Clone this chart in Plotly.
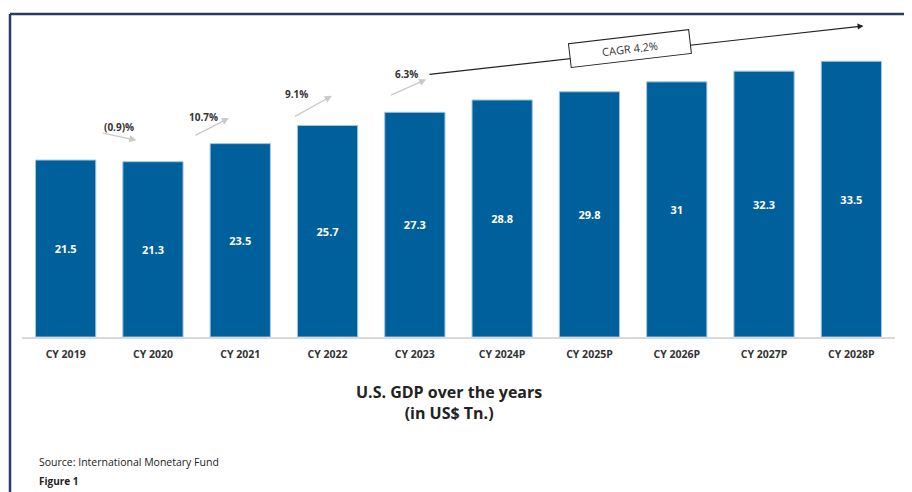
import plotly.graph_objects as go

# ---------------- data ----------------
categories = ["CY 2019", "CY 2020", "CY 2021", "CY 2022", "CY 2023",
              "CY 2024P", "CY 2025P", "CY 2026P", "CY 2027P", "CY 2028P"]
gdp_values = [21.5, 21.3, 23.5, 25.7, 27.3, 28.8, 29.8, 31.0, 32.3, 33.5]
growth_labels = ["(0.9)%", "10.7%", "9.1%", "6.3%"]
cagr_label = "CAGR 4.2%"
title_lines = ["U.S. GDP over the years", "(in US$ Tn.)"]
source_text = "Source: International Monetary Fund"
figure_text = "Figure 1"

# ---------------- layout constants ----------------
PAGE_OFF = 8                 # default body margin of the page
W, H = 912 - PAGE_OFF, 492 - PAGE_OFF
L, R, T, B = 22 - PAGE_OFF, 17, 20 - PAGE_OFF, 155
PX_PER_UNIT = 8.23
Y_MAX = (H - T - B) / PX_PER_UNIT

BAR_COLOR = "#00609c"
FONT = "Open Sans"

def px_x(px):
    """page pixel x -> paper x"""
    return (px - PAGE_OFF - L) / (W - L - R)

def px_y(py):
    """page pixel y -> paper y"""
    return (H - B - (py - PAGE_OFF)) / (H - T - B)

# growth-arrow placement offsets (relative to bar index / bar value)
arrow_tail_dx = [0.41, 0.47, 0.61, 0.71]
arrow_head_dx = [0.81, 0.87, 1.05, 1.13]
arrow_tail_dy = [3.3, 3.1, 3.2, 3.6]
arrow_head_dy = [2.6, 3.1, 3.6, 4.0]
label_dx = [0.61, 0.58, 0.64, 0.91]
label_dy = [4.05, 5.4, 6.0, 6.3]

fig = go.Figure()
fig.add_trace(go.Bar(
    x=categories, y=gdp_values,
    marker=dict(color=BAR_COLOR, line=dict(color="#9fc5e8", width=1)),
    texttemplate="%{y}", textposition="inside", insidetextanchor="middle",
    textangle=0, constraintext="none",
    textfont=dict(family=FONT, size=11, color="white", weight="bold"),
    hoverinfo="skip",
))

annotations = []
for i, lab in enumerate(growth_labels):
    annotations.append(dict(
        x=i + arrow_head_dx[i], y=gdp_values[i + 1] + arrow_head_dy[i],
        ax=i + arrow_tail_dx[i], ay=gdp_values[i] + arrow_tail_dy[i],
        xref="x", yref="y", axref="x", ayref="y",
        text="", showarrow=True, arrowhead=2, arrowsize=1.1,
        arrowwidth=1.3, arrowcolor="#c9c9c9",
    ))
    annotations.append(dict(
        x=i + label_dx[i], y=gdp_values[i] + label_dy[i],
        xref="x", yref="y", text=lab, showarrow=False,
        font=dict(family=FONT, size=10, color="#333333", weight="bold"),
    ))

# CAGR arrow
annotations.append(dict(
    x=9 + 0.14, y=gdp_values[9] + 4.3,
    ax=4 + 0.15, ay=gdp_values[4] + 4.6,
    xref="x", yref="y", axref="x", ayref="y",
    text="", showarrow=True, arrowhead=2, arrowsize=1.0,
    arrowwidth=1.2, arrowcolor="#222222",
))
annotations.append(dict(
    x=6.47, y=35.0, xref="x", yref="y", text=cagr_label, showarrow=False,
    textangle=-6.7, bgcolor="white", bordercolor="#222222", borderwidth=1,
    borderpad=3, width=114, height=17,
    font=dict(family=FONT, size=11, color="#333333"),
))

# title, source, figure
annotations.append(dict(
    x=px_x(449), y=px_y(402), xref="paper", yref="paper",
    text="<b>" + title_lines[0] + "</b><br><b>" + title_lines[1] + "</b>",
    showarrow=False, xanchor="center", yanchor="middle",
    font=dict(family=FONT, size=16, color="#222222"),
))
annotations.append(dict(
    x=px_x(37), y=px_y(462), xref="paper", yref="paper", text=source_text,
    showarrow=False, xanchor="left", yanchor="middle",
    font=dict(family=FONT, size=10.5, color="#222222"),
))
annotations.append(dict(
    x=px_x(37), y=px_y(481), xref="paper", yref="paper", text=figure_text,
    showarrow=False, xanchor="left", yanchor="middle",
    font=dict(family=FONT, size=10, color="#222222", weight="bold"),
))

shapes = [
    dict(type="line", xref="paper", yref="paper",
         x0=px_x(10), y0=px_y(14), x1=px_x(930), y1=px_y(14),
         line=dict(color="#2b3b63", width=2.5)),
    dict(type="line", xref="paper", yref="paper",
         x0=px_x(10), y0=px_y(14), x1=px_x(10), y1=px_y(510),
         line=dict(color="#2b3b63", width=2.5)),
]

fig.update_layout(
    width=W, height=H,
    margin=dict(l=L, r=R, t=T, b=B, autoexpand=False),
    paper_bgcolor="white", plot_bgcolor="white",
    bargap=0.31, showlegend=False,
    annotations=annotations, shapes=shapes,
    xaxis=dict(
        type="category", range=[-0.5, 9.5],
        showline=True, linecolor="#d9d9d9", linewidth=1.5,
        ticks="outside", ticklen=7, tickcolor="rgba(0,0,0,0)",
        showgrid=False, zeroline=False,
        tickfont=dict(family=FONT, size=10.5, color="#333333", weight="bold"),
    ),
    yaxis=dict(range=[0, Y_MAX], visible=False, showgrid=False, zeroline=False),
)

fig.write_html("out.html")
